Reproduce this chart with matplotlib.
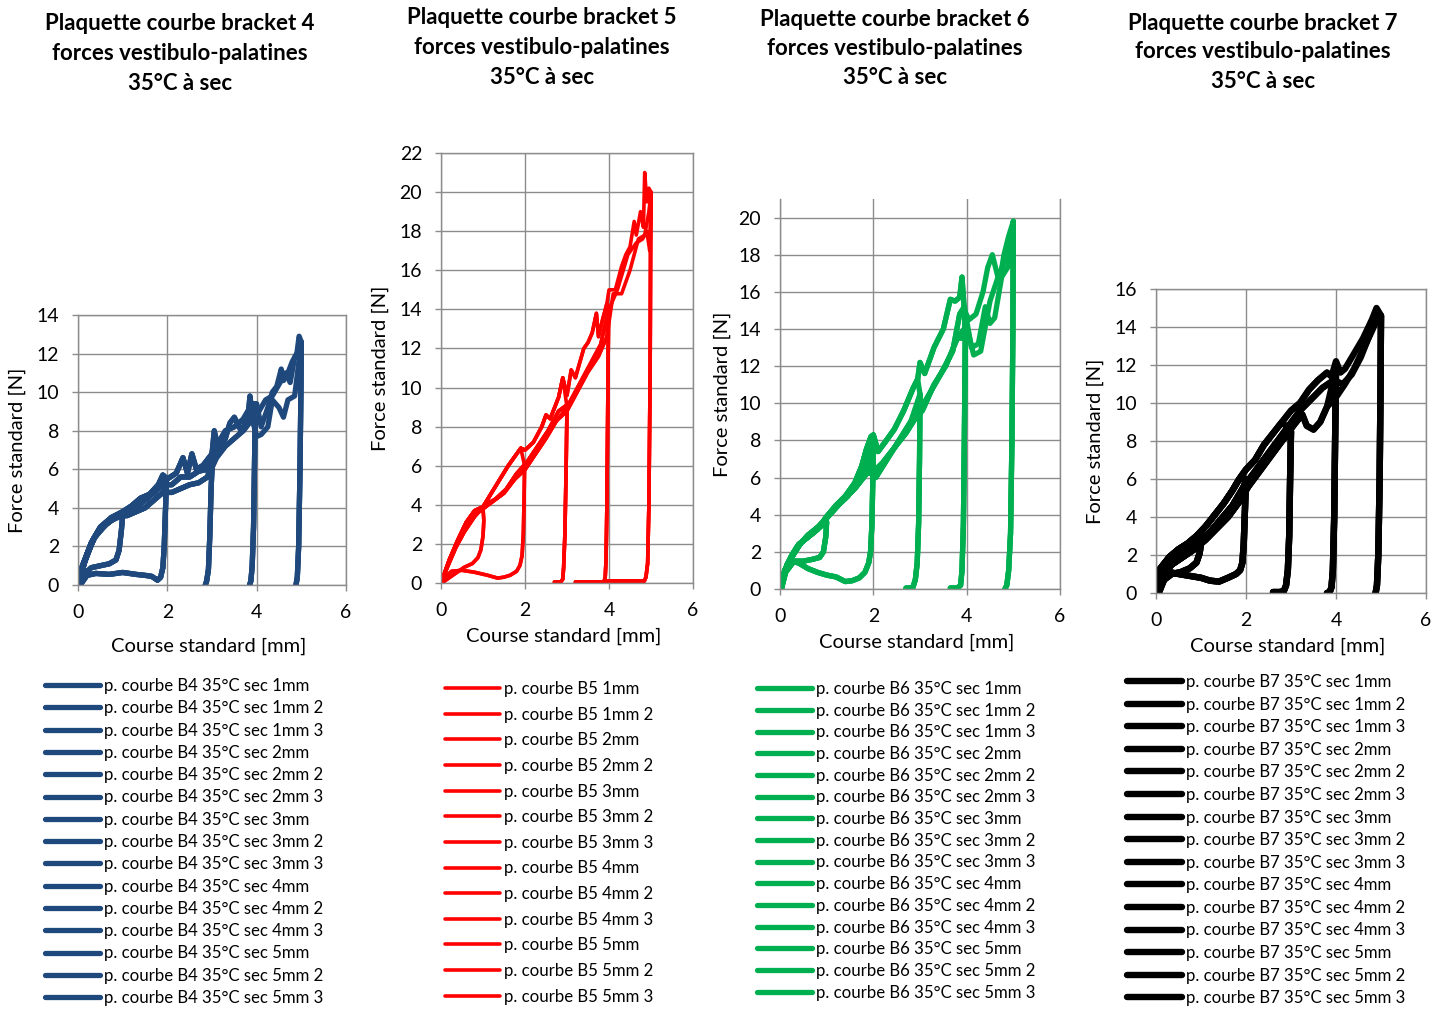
import matplotlib
matplotlib.use("Agg")
import matplotlib.pyplot as plt

plt.rcParams['font.family'] = ['Lato', 'DejaVu Sans']

W, H = 1442, 1010

DISPLACEMENTS = [1, 2, 3, 4, 5]
REPEAT_SUFFIX = ["", " 2", " 3"]
# number of repeats recorded per displacement
B4_REPEATS = [3, 3, 3, 3, 3]
B5_REPEATS = [2, 2, 3, 3, 3]
B6_REPEATS = [3, 3, 3, 3, 3]
B7_REPEATS = [3, 3, 3, 3, 3]

# ---- bracket 4 ----
B4_LOAD_X = [
    [0, 0.1, 0.3, 0.5, 0.75, 1.0, 1.2, 1.4, 1.6, 1.8, 1.9, 2.0, 2.2, 2.35, 2.45, 2.55, 2.65, 2.8, 3.0, 3.05,
     3.15, 3.3, 3.4, 3.5, 3.65, 3.8, 3.85, 3.9, 4.0, 4.1, 4.25, 4.35, 4.45, 4.55, 4.6, 4.7, 4.8, 4.9, 4.95, 5.0],
    [0, 0.15, 0.35, 0.6, 0.9, 1.1, 1.3, 1.5, 1.7, 1.9, 2.1, 2.3, 2.5, 2.7, 2.9, 3.1, 3.3, 3.5, 3.7, 3.9,
     4.0, 4.1, 4.25, 4.35, 4.5, 4.6, 4.7, 4.85, 5.0],
    [0, 0.2, 0.4, 0.7, 1.0, 1.2, 1.45, 1.7, 1.9, 2.1, 2.3, 2.5, 2.7, 2.9, 3.1, 3.3, 3.5, 3.7, 3.9, 4.05,
     4.2, 4.35, 4.5, 4.65, 4.75, 4.85, 4.95, 5.0],
]
B4_LOAD_Y = [
    [0, 1.0, 2.2, 3.0, 3.5, 3.8, 4.1, 4.5, 4.7, 5.2, 5.7, 5.5, 5.8, 6.6, 5.8, 6.8, 6.0, 6.2, 6.8, 8.0,
     7.0, 7.6, 8.4, 8.7, 8.0, 8.6, 9.8, 8.8, 9.4, 8.2, 9.2, 10.0, 10.3, 11.2, 10.6, 11.0, 11.6, 12.0, 12.9, 12.8],
    [0, 1.2, 2.4, 3.1, 3.6, 3.6, 3.8, 4.0, 4.4, 4.8, 4.8, 5.0, 5.2, 5.3, 5.6, 6.6, 7.2, 7.6, 8.0, 8.6,
     7.7, 7.8, 8.2, 9.6, 9.2, 8.7, 9.6, 9.8, 10.0],
    [0, 1.6, 2.6, 3.3, 3.7, 3.9, 4.3, 4.8, 5.2, 5.2, 5.6, 5.6, 5.9, 6.0, 7.2, 8.0, 8.2, 8.6, 9.4, 9.0,
     9.6, 9.8, 10.4, 11.0, 10.5, 11.8, 12.2, 12.6],
]
B4_UNLOAD_X = [
    [1.0, 0.97, 0.92, 0.85, 0.7, 0.5, 0.3, 0.15, 0.05],
    [1.98, 1.96, 1.93, 1.9, 1.85, 1.78, 1.65, 1.5, 1.3, 1.0, 0.7, 0.4, 0.2, 0.08],
    [3.02, 2.98, 2.95, 2.92, 2.88, 2.85],
    [3.97, 3.95, 3.93, 3.9, 3.87, 3.84],
    [5.0, 4.99, 4.97, 4.94, 4.91, 4.88],
]
B4_UNLOAD_Y = [
    [3.6, 2.8, 1.8, 1.3, 1.1, 1.0, 0.9, 0.6, 0.1],
    [5.4, 4.0, 2.0, 0.9, 0.4, 0.25, 0.45, 0.5, 0.55, 0.65, 0.55, 0.6, 0.5, 0.1],
    [7.0, 5.0, 2.5, 0.8, 0.2, 0.0],
    [9.4, 6.0, 3.0, 1.0, 0.2, 0.0],
    [12.6, 10.0, 6.0, 2.0, 0.4, 0.0],
]

# ---- bracket 5 ----
B5_LOAD_X = [
    [0, 0.2, 0.4, 0.6, 0.8, 1.0, 1.2, 1.4, 1.6, 1.8, 1.9, 2.0, 2.2, 2.4, 2.5, 2.6, 2.8, 2.9, 3.0, 3.1,
     3.2, 3.4, 3.5, 3.6, 3.7, 3.75, 3.85, 3.95, 4.0, 4.15, 4.3, 4.4, 4.5, 4.6, 4.65, 4.75, 4.82, 4.85, 4.9,
     4.95, 5.0],
    [0, 0.25, 0.5, 0.75, 1.0, 1.25, 1.5, 1.75, 2.0, 2.25, 2.5, 2.75, 3.0, 3.25, 3.5, 3.75, 3.95, 4.1, 4.3,
     4.5, 4.7, 4.85, 4.95, 5.0],
    [0, 0.15, 0.35, 0.55, 0.8, 1.05, 1.3, 1.55, 1.8, 2.05, 2.3, 2.55, 2.8, 3.05, 3.3, 3.55, 3.8, 4.0, 4.2,
     4.45, 4.65, 4.8, 4.9, 4.97, 5.0],
]
B5_LOAD_Y = [
    [0, 1.2, 2.2, 3.1, 3.7, 3.9, 4.6, 5.3, 6.0, 6.6, 6.9, 6.8, 7.2, 8.0, 8.6, 8.4, 9.5, 10.5, 9.6, 10.9,
     10.5, 12.0, 12.3, 12.8, 13.8, 12.6, 13.5, 14.3, 15.0, 15.0, 16.2, 16.8, 17.2, 18.5, 17.8, 19.0, 18.2,
     21.0, 19.5, 20.2, 20.0],
    [0, 1.4, 2.6, 3.4, 3.8, 4.2, 4.6, 5.3, 5.8, 6.6, 7.4, 8.3, 8.8, 9.8, 10.8, 11.6, 12.6, 14.8, 14.8,
     16.0, 17.6, 17.8, 19.0, 18.5],
    [0, 0.8, 1.8, 2.6, 3.4, 4.0, 4.3, 4.8, 5.6, 6.2, 7.0, 7.8, 8.8, 9.2, 10.2, 11.2, 12.2, 14.0, 15.0,
     16.8, 17.4, 17.6, 18.0, 17.0, 17.2],
]
B5_UNLOAD_X = [
    [1.02, 1.0, 0.95, 0.88, 0.75, 0.55, 0.35, 0.15, 0.02],
    [1.99, 1.98, 1.96, 1.93, 1.88, 1.8, 1.65, 1.5, 1.35, 1.1, 0.8, 0.5, 0.25, 0.05],
    [3.0, 2.98, 2.95, 2.92, 2.9, 2.85, 2.7],
    [3.99, 3.97, 3.95, 3.93, 3.91, 3.88, 3.5, 3.2],
    [5.0, 4.99, 4.98, 4.95, 4.92, 4.88, 4.84, 4.4, 3.9],
]
B5_UNLOAD_Y = [
    [3.2, 2.4, 1.7, 1.3, 1.0, 0.8, 0.5, 0.2, 0.0],
    [6.0, 4.5, 2.5, 1.4, 0.9, 0.6, 0.4, 0.3, 0.25, 0.4, 0.55, 0.65, 0.6, 0.2],
    [9.0, 6.0, 2.5, 0.8, 0.2, 0.05, 0.05],
    [14.0, 9.0, 4.0, 1.2, 0.3, 0.05, 0.05, 0.05],
    [20.0, 17.0, 11.0, 4.0, 1.0, 0.3, 0.1, 0.1, 0.1],
]

# ---- bracket 6 ----
B6_LOAD_X = [
    [0, 0.1, 0.25, 0.4, 0.6, 0.8, 1.0, 1.2, 1.4, 1.6, 1.75, 1.85, 1.95, 2.0, 2.1, 2.25, 2.45, 2.65, 2.85,
     2.95, 3.0, 3.1, 3.3, 3.5, 3.65, 3.75, 3.85, 3.9, 3.95, 4.05, 4.2, 4.35, 4.45, 4.55, 4.6, 4.7, 4.8, 4.9, 5.0],
    [0, 0.15, 0.35, 0.6, 0.85, 1.1, 1.35, 1.6, 1.85, 2.0, 2.2, 2.45, 2.7, 2.95, 3.2, 3.45, 3.7, 3.85, 3.95,
     4.1, 4.25, 4.4, 4.5, 4.6, 4.75, 4.9, 5.0],
    [0, 0.2, 0.45, 0.7, 0.95, 1.2, 1.45, 1.7, 1.9, 2.05, 2.3, 2.55, 2.8, 3.05, 3.3, 3.55, 3.8, 4.0, 4.15,
     4.3, 4.5, 4.7, 4.85, 5.0],
]
B6_LOAD_Y = [
    [0, 1.0, 1.8, 2.4, 2.8, 3.2, 3.9, 4.5, 5.0, 5.7, 6.6, 7.5, 8.2, 8.3, 7.4, 7.9, 8.6, 9.6, 10.8,
     11.3, 12.2, 11.6, 13.0, 14.0, 15.6, 15.5, 15.7, 16.8, 15.0, 14.5, 14.8, 16.0, 17.3, 18.0, 17.5, 16.5,
     18.0, 19.0, 20.0],
    [0, 1.3, 2.2, 2.9, 3.4, 4.1, 4.8, 5.4, 6.2, 6.3, 6.8, 7.6, 8.4, 9.4, 10.5, 11.6, 12.8, 14.8, 15.2,
     13.0, 13.2, 15.2, 14.3, 14.6, 16.8, 17.4, 18.0],
    [0, 1.5, 2.5, 3.0, 3.7, 4.4, 5.0, 5.8, 7.5, 6.0, 7.0, 8.0, 9.0, 9.6, 11.0, 12.0, 13.5, 14.2, 12.6,
     12.8, 15.5, 17.0, 17.8, 19.5],
]
B6_UNLOAD_X = [
    [1.0, 0.98, 0.93, 0.85, 0.7, 0.5, 0.3, 0.12, 0.03],
    [2.0, 1.99, 1.97, 1.94, 1.9, 1.82, 1.7, 1.55, 1.4, 1.2, 1.0, 0.8, 0.6, 0.4, 0.25, 0.1, 0.03],
    [3.0, 2.99, 2.97, 2.94, 2.9, 2.85, 2.78, 2.7],
    [3.97, 3.95, 3.93, 3.9, 3.87, 3.8, 3.65],
    [5.0, 4.99, 4.97, 4.94, 4.9, 4.86, 4.82],
]
B6_UNLOAD_Y = [
    [3.6, 2.8, 2.0, 1.7, 1.6, 1.5, 1.5, 0.9, 0.0],
    [8.0, 6.0, 3.5, 2.0, 1.4, 0.9, 0.6, 0.45, 0.4, 0.65, 0.75, 0.9, 1.1, 1.4, 1.5, 0.9, 0.0],
    [10.5, 7.0, 3.5, 1.4, 0.5, 0.1, 0.05, 0.05],
    [13.5, 8.0, 3.5, 1.0, 0.2, 0.05, 0.05],
    [19.8, 14.0, 8.0, 3.0, 1.0, 0.2, 0.0],
]

# ---- bracket 7 ----
B7_LOAD_X = [
    [0, 0.1, 0.3, 0.5, 0.7, 0.9, 1.1, 1.3, 1.5, 1.7, 1.85, 2.0, 2.2, 2.4, 2.6, 2.8, 3.0, 3.2, 3.4, 3.6,
     3.8, 3.9, 4.0, 4.1, 4.2, 4.4, 4.6, 4.8, 4.9, 5.0],
    [0, 0.15, 0.35, 0.6, 0.85, 1.1, 1.35, 1.6, 1.85, 2.05, 2.3, 2.55, 2.8, 3.05, 3.25, 3.35, 3.5, 3.65,
     3.8, 4.0, 4.2, 4.4, 4.6, 4.8, 4.95, 5.0],
    [0, 0.2, 0.45, 0.7, 0.95, 1.2, 1.45, 1.7, 1.95, 2.2, 2.45, 2.7, 2.95, 3.2, 3.45, 3.7, 3.95, 4.15,
     4.35, 4.55, 4.75, 4.9, 5.0],
]
B7_LOAD_Y = [
    [0.9, 1.3, 1.9, 2.3, 2.6, 3.0, 3.5, 4.1, 4.7, 5.4, 6.0, 6.5, 7.0, 7.8, 8.4, 9.0, 9.6, 10.0, 10.7,
     11.2, 11.6, 11.4, 12.2, 11.6, 11.8, 12.6, 13.4, 14.4, 15.0, 14.7],
    [0.0, 1.0, 1.5, 1.9, 2.3, 2.8, 3.4, 4.0, 4.8, 5.6, 6.4, 7.2, 8.0, 8.8, 9.4, 8.8, 8.6, 9.0, 9.8,
     10.3, 11.0, 11.8, 12.8, 13.8, 14.6, 14.5],
    [0.3, 1.4, 2.0, 2.4, 2.7, 3.2, 3.9, 4.6, 5.6, 6.4, 7.2, 8.0, 8.8, 9.6, 10.2, 10.8, 11.2, 11.0,
     11.5, 12.4, 13.6, 14.6, 14.4],
]
B7_UNLOAD_X = [
    [1.0, 0.97, 0.9, 0.75, 0.55, 0.35, 0.18, 0.06],
    [2.0, 1.98, 1.95, 1.92, 1.87, 1.78, 1.6, 1.4, 1.2, 1.0, 0.75, 0.5, 0.3, 0.15, 0.05],
    [3.0, 2.98, 2.96, 2.93, 2.89, 2.84, 2.75, 2.6],
    [4.0, 3.98, 3.96, 3.93, 3.9, 3.86, 3.8],
    [5.0, 4.99, 4.97, 4.94, 4.91, 4.88],
]
B7_UNLOAD_Y = [
    [2.6, 2.1, 1.6, 1.3, 1.1, 1.0, 0.7, 0.0],
    [6.0, 4.6, 2.6, 1.6, 1.2, 1.0, 0.8, 0.6, 0.65, 0.8, 0.9, 1.0, 1.1, 0.6, 0.0],
    [8.5, 6.0, 3.0, 1.2, 0.4, 0.1, 0.05, 0.05],
    [11.8, 8.0, 4.0, 1.2, 0.3, 0.05, 0.0],
    [14.6, 11.0, 6.0, 2.0, 0.4, 0.0],
]

TITLE_LINES = ["Plaquette courbe bracket {n}", "forces vestibulo-palatines", "35°C à sec"]

# layout (pixels): axes box (x0, x1, ytop, ybottom), title centre x and first-line y,
# x-label centre y, y-label centre x, legend (line start x, first row y, row step)
PANELS = [
    dict(n=4, color="#1F497D", lw=3.8, prefix="p. courbe B4 35°C sec ", reps=B4_REPEATS,
         load=(B4_LOAD_X, B4_LOAD_Y), unload=(B4_UNLOAD_X, B4_UNLOAD_Y),
         ymax=14, ytop=14, box=(78, 346, 315, 585), title=(180, 24, 30), xlab=646, ylab=17,
         leg=(45, 685, 22.4), top_spine=True),
    dict(n=5, color="#FF0000", lw=2.6, prefix="p. courbe B5 ", reps=B5_REPEATS,
         load=(B5_LOAD_X, B5_LOAD_Y), unload=(B5_UNLOAD_X, B5_UNLOAD_Y),
         ymax=22, ytop=22, box=(441, 693, 153, 583), title=(542, 18, 30), xlab=636, ylab=380,
         leg=(445, 688, 25.75), top_spine=True),
    dict(n=6, color="#00B050", lw=3.8, prefix="p. courbe B6 35°C sec ", reps=B6_REPEATS,
         load=(B6_LOAD_X, B6_LOAD_Y), unload=(B6_UNLOAD_X, B6_UNLOAD_Y),
         ymax=20, ytop=21, box=(780, 1060, 199, 589), title=(895, 19, 29.5), xlab=642, ylab=722,
         leg=(757, 688, 21.8), top_spine=False),
    dict(n=7, color="#000000", lw=4.6, prefix="p. courbe B7 35°C sec ", reps=B7_REPEATS,
         load=(B7_LOAD_X, B7_LOAD_Y), unload=(B7_UNLOAD_X, B7_UNLOAD_Y),
         ymax=16, ytop=16, box=(1156, 1426, 289, 593), title=(1263, 23, 29), xlab=646, ylab=1095,
         leg=(1127, 681, 22.7), top_spine=True),
]

GRID = "#8C8C8C"
TICK_FS = 14
LABEL_FS = 14.5
LEG_FS = 12.1
TITLE_FS = 16


def fx(px):
    return px / W


def fy(py):
    return 1 - py / H


fig = plt.figure(figsize=(W / 100, H / 100), dpi=100)

for p in PANELS:
    x0, x1, yt, yb = p["box"]
    ax = fig.add_axes([fx(x0), fy(yb), fx(x1 - x0), (yb - yt) / H])
    ax.set_xlim(0, 6)
    ax.set_ylim(0, p["ytop"])
    ax.set_xticks(range(0, 7, 2))
    ax.set_yticks(range(0, p["ymax"] + 1, 2))
    ax.grid(True, color=GRID, linewidth=1.0)
    ax.set_axisbelow(True)
    for sp in ax.spines.values():
        sp.set_color(GRID)
        sp.set_linewidth(1.0)
    ax.spines["top"].set_visible(p["top_spine"])
    ax.tick_params(length=4.5, width=1.0, color=GRID, labelsize=TICK_FS, pad=9)

    lx, ly = p["load"]
    ux, uy = p["unload"]
    handles = []
    labels = []
    for i, d in enumerate(DISPLACEMENTS):
        for r in range(p["reps"][i]):
            stop = ux[i][0]
            xs = [x for x in lx[r] if x < stop - 0.005]
            ys = ly[r][:len(xs)]
            h, = ax.plot(xs + ux[i], ys + uy[i], color=p["color"], lw=p["lw"],
                         solid_capstyle="round", solid_joinstyle="round")
            handles.append(h)
            labels.append(f"{p['prefix']}{d}mm{REPEAT_SUFFIX[r]}")

    ax.set_xlabel("Course standard [mm]", fontsize=LABEL_FS)
    ax.xaxis.set_label_coords(fx((x0 + x1) / 2 - 3), fy(p["xlab"]), transform=fig.transFigure)
    ax.xaxis.label.set_va("center")
    ax.set_ylabel("Force standard [N]", fontsize=LABEL_FS)
    ax.yaxis.set_label_coords(fx(p["ylab"]), fy((yt + yb) / 2), transform=fig.transFigure)
    ax.yaxis.label.set_va("center")

    tx, ty, tstep = p["title"]
    for k, line in enumerate(TITLE_LINES):
        fig.text(fx(tx), fy(ty + k * tstep), line.format(n=p["n"]),
                 ha="center", va="center", fontsize=TITLE_FS, fontweight="bold")

    lgx, lgy, step = p["leg"]
    fs_px = LEG_FS * 100 / 72
    row_h = 0.95 * fs_px
    fig.legend(handles, labels, loc="upper left",
               bbox_to_anchor=(fx(lgx), fy(lgy - row_h / 2 + 1.0)),
               frameon=False, fontsize=LEG_FS, handlelength=55 / fs_px, handletextpad=4 / fs_px,
               borderpad=0, borderaxespad=0, labelspacing=(step - row_h - 0.15) / fs_px)

fig.savefig("out.png", dpi=100)
